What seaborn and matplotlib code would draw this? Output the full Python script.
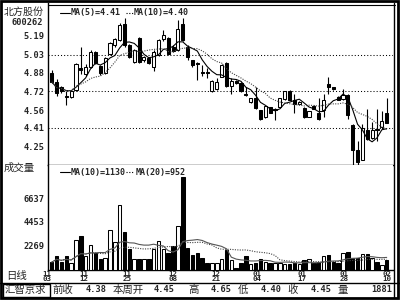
import numpy as np
import pandas as pd
import matplotlib
matplotlib.use("Agg")
import matplotlib.pyplot as plt
import seaborn as sns
from matplotlib.lines import Line2D
from matplotlib.patches import Rectangle

# ---------------- data ----------------
opens = [4.876, 4.80, 4.755, 4.685, 4.675, 4.736, 4.92, 4.867, 4.93, 5.057,
         4.935, 4.88, 5.04, 5.11, 5.155, 5.29, 5.11, 4.97, 5.17, 4.985,
         5.00, 4.93, 5.03, 5.16, 5.17, 5.10, 5.07, 5.29, 5.10, 4.985,
         4.963, 4.885, 4.88, 4.72, 4.74, 4.845, 4.963, 4.77, 4.81, 4.795,
         4.70, 4.63, 4.66, 4.56, 4.50, 4.585, 4.56, 4.585, 4.655, 4.725,
         4.65, 4.61, 4.58, 4.505, 4.60, 4.535, 4.56, 4.78, 4.755, 4.675,
         4.655, 4.69, 4.435, 4.22, 4.14, 4.39, 4.325, 4.40, 4.42, 4.54]
closes = [4.802, 4.704, 4.727, 4.675, 4.72, 4.95, 4.90, 4.93, 5.057, 4.958,
          4.873, 5.00, 5.13, 5.16, 5.28, 5.11, 5.015, 5.07, 4.97, 5.01,
          4.96, 5.057, 5.155, 5.20, 5.04, 5.06, 5.245, 5.155, 5.015, 4.945,
          4.95, 4.875, 4.875, 4.81, 4.80, 4.94, 4.766, 4.81, 4.79, 4.72,
          4.69, 4.66, 4.577, 4.49, 4.596, 4.54, 4.575, 4.66, 4.72, 4.65,
          4.61, 4.63, 4.50, 4.55, 4.575, 4.485, 4.645, 4.76, 4.74, 4.65,
          4.69, 4.52, 4.224, 4.125, 4.41, 4.315, 4.39, 4.39, 4.47, 4.455]
highs = [4.90, 4.825, 4.77, 4.72, 4.725, 4.96, 5.10, 4.95, 5.07, 5.06,
         4.94, 5.01, 5.14, 5.175, 5.30, 5.34, 5.12, 5.08, 5.18, 5.02,
         5.01, 5.07, 5.16, 5.24, 5.18, 5.11, 5.325, 5.34, 5.11, 4.99,
         4.97, 4.94, 4.92, 4.815, 4.83, 4.95, 4.97, 4.83, 4.82, 4.80,
         4.76, 4.665, 4.76, 4.565, 4.60, 4.59, 4.58, 4.665, 4.725, 4.73,
         4.695, 4.635, 4.585, 4.555, 4.605, 4.66, 4.70, 4.84, 4.76, 4.68,
         4.74, 4.695, 4.44, 4.30, 4.44, 4.57, 4.46, 4.57, 4.555, 4.665]
lows = [4.79, 4.68, 4.71, 4.605, 4.665, 4.72, 4.87, 4.85, 4.92, 4.95,
        4.86, 4.87, 5.03, 5.10, 5.15, 5.10, 5.00, 4.96, 4.96, 4.97,
        4.955, 4.89, 5.02, 5.15, 5.03, 5.05, 5.06, 5.15, 4.99, 4.93,
        4.82, 4.85, 4.83, 4.715, 4.735, 4.84, 4.76, 4.70, 4.78, 4.715,
        4.68, 4.625, 4.57, 4.48, 4.495, 4.535, 4.48, 4.58, 4.65, 4.645,
        4.535, 4.605, 4.495, 4.50, 4.57, 4.48, 4.50, 4.70, 4.735, 4.645,
        4.65, 4.485, 4.10, 4.10, 4.135, 4.31, 4.32, 4.30, 4.40, 4.45]
volumes = [720, 1245, 720, 1245, 690, 2750, 3180, 1270, 2350, 1610,
           1060, 1150, 3670, 2560, 5950, 3485, 1980, 1060, 1060, 970,
           1060, 1980, 2630, 1980, 1610, 2190, 4100, 8620, 2010, 1340,
           1610, 1150, 690, 600, 600, 1060, 1890, 880, 230, 600,
           1270, 510, 690, 970, 780, 690, 600, 690, 510, 510,
           630, 510, 880, 970, 690, 780, 1245, 1340, 720, 600,
           1610, 1640, 1150, 1150, 1520, 1430, 1090, 720, 415, 880]

price_ticks = [4.25, 4.41, 4.56, 4.72, 4.88, 5.03, 5.19]
price_grid = [4.41, 4.72, 5.03]
vol_ticks = [2269, 4453, 6637]
date_labels = ["11\n03", "11\n12", "11\n25", "12\n08", "12\n21",
               "01\n04", "01\n17", "01\n28", "02\n10"]
stock_name = "北方股份"
stock_code = "600262"
price_legend = ["MA(5)=4.41", "MA(10)=4.40"]
vol_legend = ["MA(10)=1130", "MA(20)=952"]
info_labels = ["前收", "本周开", "高", "低", "收", "量"]
info_values = ["4.38", "4.45", "4.65", "4.40", "4.45", "1881"]

# ---------------- layout helpers ----------------
W, H = 400, 300
def fx(x):
    return x / W
def fy(y):
    return 1 - y / H

date_pos = [-1.07, 6.65, 15.5, 25.0, 33.8, 42.3, 51.6, 60.2, 69.07]

sns.set_style("white")
plt.rcParams['font.family'] = ['DejaVu Sans Mono', 'Noto Sans CJK SC']
CJK = ['Noto Sans CJK SC', 'DejaVu Sans']
MONO = ['DejaVu Sans Mono', 'Noto Sans CJK SC']

fig = plt.figure(figsize=(4, 3), dpi=100)
fig.patch.set_facecolor('white')

axp = fig.add_axes([fx(48), fy(165), (393 - 48) / W, (165 - 3) / H])
axv = fig.add_axes([fx(48), fy(270), (393 - 48) / W, (270 - 165) / H])

df = pd.DataFrame({"open": opens, "close": closes, "high": highs,
                   "low": lows, "vol": volumes})
df["i"] = np.arange(len(df))
df["up"] = df["close"] >= df["open"]
df["ma5"] = df["close"].rolling(5, min_periods=1).mean()
df["ma10"] = df["close"].rolling(10, min_periods=1).mean()
df["vma10"] = df["vol"].rolling(10, min_periods=1).mean()
df["vma20"] = df["vol"].rolling(20, min_periods=1).mean()

faces = ['white' if u else 'black' for u in df["up"]]

# ---------------- price panel ----------------
for g in price_grid:
    axp.axhline(g, color='black', lw=0.75, ls=(0, (1, 2)), zorder=1)

axp.vlines(df["i"], df["low"], df["high"], color='black', lw=0.8, zorder=2)
body_h = np.maximum((df["close"] - df["open"]).abs(), 0.008)
body_b = np.minimum(df["open"], df["close"])
axp.bar(df["i"], body_h, bottom=body_b, width=0.64, color=faces,
        edgecolor='black', linewidth=0.75, zorder=3)

sns.lineplot(data=df, x="i", y="ma5", ax=axp, color='black', lw=0.8,
             zorder=4, estimator=None)
sns.lineplot(data=df, x="i", y="ma10", ax=axp, color='#444444', lw=0.8,
             linestyle=(0, (1, 1.2)), zorder=4, estimator=None)

axp.set_xlim(-0.762, 70.3)
axp.set_ylim(4.0964, 5.4693)
axp.set_yticks(price_ticks)
axp.set_yticklabels([f"{t:.2f}" for t in price_ticks], fontsize=6.2,
                    fontweight='bold', family=MONO)
axp.set_xticks([])
axp.tick_params(axis='y', length=0, pad=2.5)
axp.set_xlabel("")
axp.set_ylabel("")
for s in ['top', 'right']:
    axp.spines[s].set_visible(False)
for s in ['left', 'bottom']:
    axp.spines[s].set_color('black')
    axp.spines[s].set_linewidth(1.0)
axp.set_facecolor('white')

# ---------------- volume panel ----------------
axv.bar(df["i"], df["vol"], width=0.72, color=faces, edgecolor='black',
        linewidth=0.75, zorder=3)
sns.lineplot(data=df, x="i", y="vma10", ax=axv, color='#555555', lw=0.8,
             zorder=4, estimator=None)
sns.lineplot(data=df, x="i", y="vma20", ax=axv, color='#444444', lw=0.8,
             linestyle=(0, (1, 1.2)), zorder=4, estimator=None)
axv.set_xlim(-0.762, 70.3)
axv.set_ylim(0, 9681)
axv.set_yticks(vol_ticks)
axv.set_yticklabels([str(t) for t in vol_ticks], fontsize=6.2,
                    fontweight='bold', family=MONO)
axv.set_xticks([])
axv.tick_params(axis='y', length=0, pad=2.5)
axv.set_xlabel("")
axv.set_ylabel("")
for s in ['top', 'right']:
    axv.spines[s].set_visible(False)
for s in ['left', 'bottom']:
    axv.spines[s].set_color('black')
    axv.spines[s].set_linewidth(1.0)
axv.set_facecolor('white')

for lab, pos in zip(date_labels, date_pos):
    axv.text(pos, -0.005, lab, transform=axv.get_xaxis_transform(),
             ha='center', va='top', fontsize=5.4, fontweight='bold',
             family=MONO, linespacing=0.8, clip_on=False)

# ---------------- legends ----------------
def legend(y, texts, x0s):
    fig.add_artist(Line2D([fx(60), fx(70)], [fy(y), fy(y)], color='black',
                          lw=0.8, transform=fig.transFigure))
    fig.text(fx(x0s[0]), fy(y), texts[0], ha='left', va='center',
             fontsize=6, fontweight='bold', family=MONO)
    fig.add_artist(Line2D([fx(126), fx(133)], [fy(y), fy(y)], color='black',
                          lw=0.8, ls=(0, (1, 1.5)), transform=fig.transFigure))
    fig.text(fx(x0s[1]), fy(y), texts[1], ha='left', va='center',
             fontsize=6, fontweight='bold', family=MONO)

legend(13, price_legend, [71, 134])
legend(172, vol_legend, [71, 136])

# ---------------- side labels ----------------
fig.text(fx(4), fy(12), stock_name, ha='left', va='center', fontsize=7.2,
         family=CJK)
fig.text(fx(43), fy(22.5), stock_code, ha='right', va='center', fontsize=6.2,
         fontweight='bold', family=MONO)
fig.text(fx(4), fy(168), "成交量", ha='left', va='center', fontsize=7.5,
         family=CJK)
fig.text(fx(6), fy(275.5), "日线", ha='left', va='center', fontsize=7.5,
         family=CJK)

# ---------------- bottom info row ----------------
fig.add_artist(Line2D([0, 1], [fy(283), fy(283)], color='black', lw=1.0,
                      transform=fig.transFigure))
fig.add_artist(Rectangle((fx(3), fy(297)), (50 - 3) / W, (297 - 284) / H,
                         fill=False, edgecolor='black', lw=1.0,
                         transform=fig.transFigure))
fig.text(fx(5), fy(290), "汇智京求", ha='left', va='center', fontsize=7.5,
         family=CJK)
lab_x = [52, 113, 188, 238, 287, 337]
val_x = [107, 175, 232, 282, 332, 392]
for lab, lx, val, vx in zip(info_labels, lab_x, info_values, val_x):
    fig.text(fx(lx), fy(290), lab, ha='left', va='center', fontsize=7.5,
             family=CJK)
    fig.text(fx(vx), fy(290), val, ha='right', va='center', fontsize=6.2,
             fontweight='bold', family=MONO)

# ---------------- frame ----------------
fig.add_artist(Rectangle((fx(1.2), fy(297.8)), (397.5 - 1.2) / W,
                         (297.8 - 1.2) / H, fill=False, edgecolor='black',
                         lw=2.0, transform=fig.transFigure))
fig.add_artist(Line2D([fx(393.5), fx(393.5)], [fy(3), fy(297)], color='black',
                      lw=1.0, transform=fig.transFigure))
fig.add_artist(Line2D([fx(48), fx(395)], [fy(4.5), fy(4.5)], color='black',
                      lw=0.8, transform=fig.transFigure))

fig.savefig("out.png", dpi=100, facecolor='white')
